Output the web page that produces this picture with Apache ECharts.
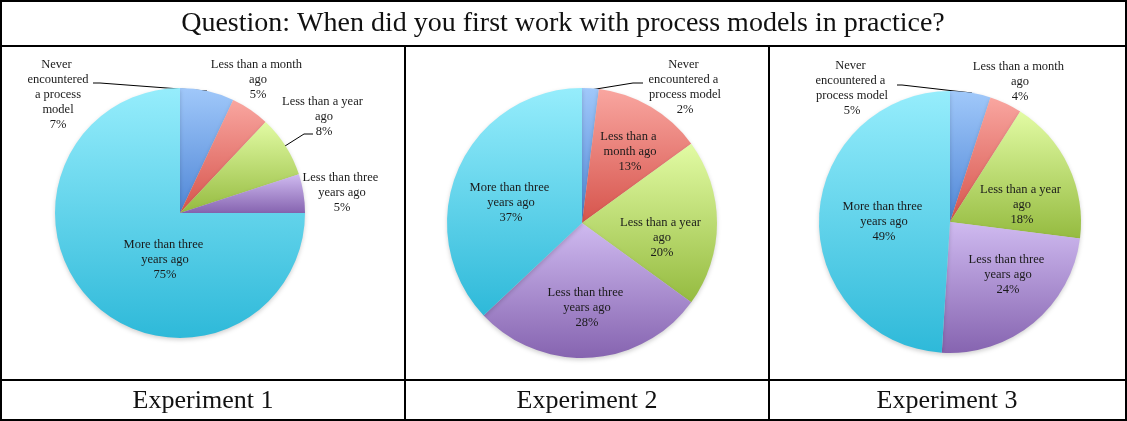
<!DOCTYPE html>
<html>
<head>
<meta charset="utf-8">
<script src="https://cdn.jsdelivr.net/npm/echarts@6/dist/echarts.min.js"></script>
<style>
  html, body { margin: 0; padding: 0; background: #fff; }
  #chart { width: 1127px; height: 421px; }
</style>
</head>
<body>
<div id="chart"></div>
<script>
var questionText = 'Question: When did you first work with process models in practice?';
var categories = [
    'Never encountered a process model',
    'Less than a month ago',
    'Less than a year ago',
    'Less than three years ago',
    'More than three years ago'
];
var experiment1 = [7, 5, 8, 5, 75];
var experiment2 = [2, 13, 20, 28, 37];
var experiment3 = [5, 4, 18, 24, 49];
var panelNames = ['Experiment 1', 'Experiment 2', 'Experiment 3'];

// light (top) -> dark (bottom) per slice, Excel style
var sliceColors = [
    ['#a0c8fa', '#4f86d6'],
    ['#f9a6a0', '#d6544c'],
    ['#e2fba4', '#95bb40'],
    ['#cfbaf0', '#8664b0'],
    ['#96edfc', '#2eb9d9']
];

function grad(pair) {
    return {
        type: 'linear', x: 0, y: 0, x2: 0, y2: 1,
        colorStops: [{offset: 0, color: pair[0]}, {offset: 1, color: pair[1]}]
    };
}

// leaders: {index: [[dx,dy],...]} relative to the pie centre
function pieSeries(values, center, radius, labelOffsets, labelWidths, leaders) {
    return {
        type: 'pie',
        center: center,
        radius: radius,
        startAngle: 90,
        clockwise: true,
        avoidLabelOverlap: false,
        animation: false,
        itemStyle: {
            borderWidth: 0,
            shadowBlur: 4,
            shadowOffsetY: 2,
            shadowColor: 'rgba(0,0,0,0.18)'
        },
        label: {
            formatter: '{b}\n{d}%',
            fontFamily: 'Liberation Serif',
            fontSize: 12.5,
            fontWeight: 'normal',
            lineHeight: 15,
            color: '#1a1a1a',
            textBorderWidth: 0,
            overflow: 'break',
            align: 'center'
        },
        labelLine: {
            length: 5,
            length2: 5,
            lineStyle: {color: '#000', width: 1}
        },
        data: values.map(function (v, i) {
            var line = !!leaders[i];
            return {
                name: categories[i],
                value: v,
                itemStyle: {color: grad(sliceColors[i])},
                label: {position: line ? 'outside' : 'inside', width: labelWidths[i]},
                labelLine: {show: line}
            };
        }),
        labelLayout: function (p) {
            var o = labelOffsets[p.dataIndex];
            var res = {
                x: center[0] + o[0],
                y: center[1] + o[1],
                align: 'center',
                verticalAlign: 'middle'
            };
            var pts = leaders[p.dataIndex];
            if (pts) {
                res.labelLinePoints = pts.map(function (q) {
                    return [center[0] + q[0], center[1] + q[1]];
                });
            }
            return res;
        }
    };
}

var chart = echarts.init(document.getElementById('chart'));

var lineStyle = {stroke: '#000', lineWidth: 2};
var options = {
    backgroundColor: '#fff',
    graphic: [
        {type: 'rect', shape: {x: 1, y: 1, width: 1125, height: 419}, style: {fill: 'none', stroke: '#000', lineWidth: 2}},
        {type: 'line', shape: {x1: 1, y1: 46, x2: 1126, y2: 46}, style: lineStyle},
        {type: 'line', shape: {x1: 1, y1: 380, x2: 1126, y2: 380}, style: lineStyle},
        {type: 'line', shape: {x1: 405, y1: 46, x2: 405, y2: 420}, style: lineStyle},
        {type: 'line', shape: {x1: 769, y1: 46, x2: 769, y2: 420}, style: lineStyle},
        {type: 'text', x: 563, y: 23.5, style: {text: questionText, font: '28px "Liberation Serif"', fill: '#111', textAlign: 'center', textVerticalAlign: 'middle'}},
        {type: 'text', x: 203, y: 401, style: {text: panelNames[0], font: '26px "Liberation Serif"', fill: '#111', textAlign: 'center', textVerticalAlign: 'middle'}},
        {type: 'text', x: 587, y: 401, style: {text: panelNames[1], font: '26px "Liberation Serif"', fill: '#111', textAlign: 'center', textVerticalAlign: 'middle'}},
        {type: 'text', x: 947, y: 401, style: {text: panelNames[2], font: '26px "Liberation Serif"', fill: '#111', textAlign: 'center', textVerticalAlign: 'middle'}}
    ],
    series: [
        pieSeries(experiment1, [180, 213], 125,
            [[-122, -118], [78, -133], [144, -96], [162, -20], [-15, 47]],
            [64, 96, 84, 80, 84],
            {0: [[27, -122], [-80, -130], [-87, -130]], 2: [[105, -67], [124, -79], [133, -79]]}),
        pieSeries(experiment2, [582, 223], 135,
            [[103, -136], [48, -71], [80, 15], [5, 85], [-71, -20]],
            [76, 60, 84, 80, 84],
            {0: [[8, -133], [51, -140], [61, -140]]}),
        pieSeries(experiment3, [950, 222], 131,
            [[-98, -134], [70, -140], [72, -17], [58, 53], [-66, 0]],
            [76, 96, 84, 80, 84],
            {0: [[22, -129], [-48, -137], [-53, -137]]})
    ]
};

chart.setOption(options);
</script>
</body>
</html>
